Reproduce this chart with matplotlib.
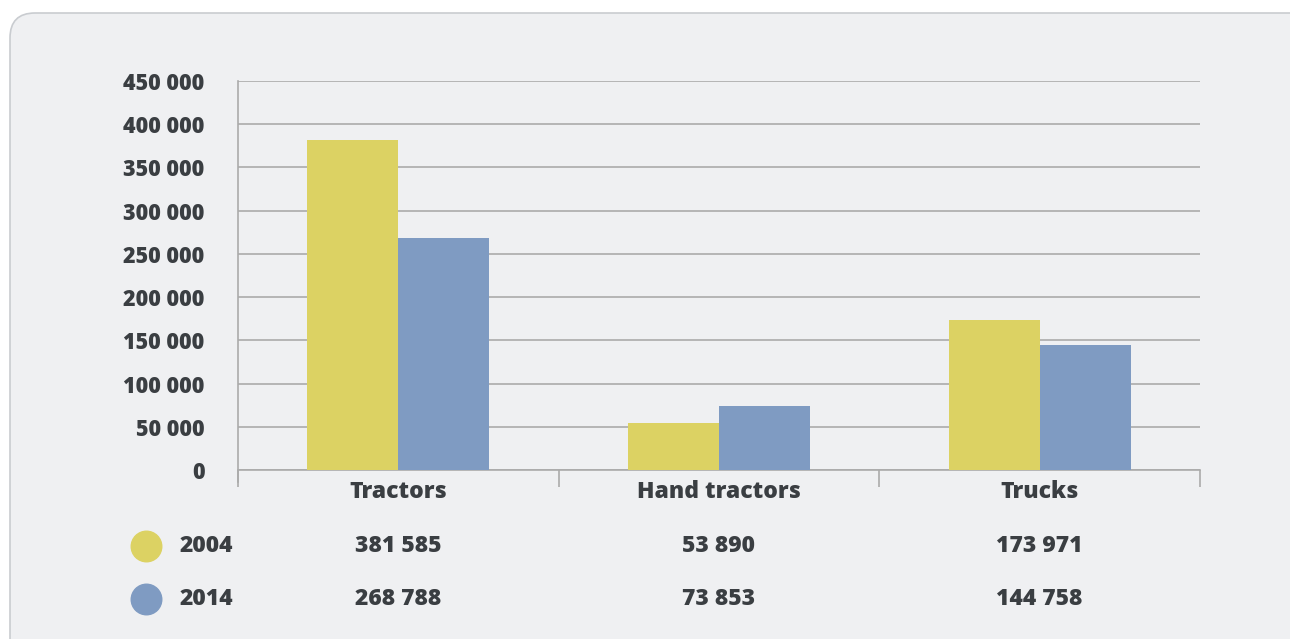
import matplotlib
matplotlib.use("Agg")
import matplotlib.pyplot as plt
import numpy as np
from matplotlib.patches import FancyBboxPatch
from matplotlib.transforms import IdentityTransform, blended_transform_factory

categories = ["Tractors", "Hand tractors", "Trucks"]
years = ["2004", "2014"]
values_2004 = [381585, 53890, 173971]
values_2014 = [268788, 73853, 144758]
yticks = [0, 50000, 100000, 150000, 200000, 250000, 300000, 350000, 400000, 450000]

col_2004 = "#dcd263"
col_2014 = "#7f9bc2"
txt = "#3a3e42"
grid = "#ababab"

plt.rcParams['font.family'] = ['Open Sans', 'DejaVu Sans']
plt.rcParams['font.weight'] = 'bold'

def fmt(v):
    return "{:,}".format(v).replace(",", " ")

fig = plt.figure(figsize=(12.9, 6.39), dpi=100)
fig.patch.set_facecolor("white")

# rounded grey panel behind everything (pixel coords)
panel = FancyBboxPatch((10 + 25, -40), 1400, 639 - 13 + 40 - 25,
                       boxstyle="round,pad=25", transform=IdentityTransform(),
                       facecolor="#eff0f2", edgecolor="#c9ccd0", linewidth=1.2,
                       zorder=-10)
fig.add_artist(panel)

ax = fig.add_axes([238 / 1290, 1 - 470 / 639, 962 / 1290, 389 / 639])
ax.set_facecolor("none")

x = np.arange(len(categories))
w = 0.284
ax.bar(x - w / 2, values_2004, w, color=col_2004, zorder=3)
ax.bar(x + w / 2, values_2014, w, color=col_2014, zorder=3)

ax.set_xlim(-0.5, 2.5)
ax.set_ylim(0, 450000)
ax.set_yticks(yticks)
ax.set_yticklabels([fmt(v) for v in yticks], fontsize=15.5, fontweight="heavy", color=txt)
ax.tick_params(axis="y", length=0, pad=24)
ax.yaxis.grid(True, color=grid, linewidth=1.2, zorder=0)

# x ticks at the group boundaries, labels in the middle
ax.set_xticks([-0.5, 0.5, 1.5, 2.5])
ax.set_xticklabels([])
ax.tick_params(axis="x", length=12, color=grid, width=1.2, direction="out")
ax.set_xticks(x, minor=True)
ax.set_xticklabels(categories, minor=True, fontsize=16.5, fontweight="heavy", color=txt)
ax.tick_params(axis="x", which="minor", length=0, pad=7)

for s in ["top", "right"]:
    ax.spines[s].set_visible(False)
ax.spines["left"].set_color(grid)
ax.spines["bottom"].set_color(grid)
ax.spines["left"].set_linewidth(1.2)
ax.spines["bottom"].set_linewidth(1.2)
ax.spines["left"].set_bounds(-450000 * 12 / 389, 450000)

# data table underneath
tr = blended_transform_factory(ax.transData, fig.transFigure)
rows_y = [1 - 546 / 639, 1 - 599 / 639]
for vals, yr, col, ry in zip([values_2004, values_2014], years, [col_2004, col_2014], rows_y):
    fig.lines.append(plt.Line2D([146 / 1290], [ry], marker="o", markersize=22,
                                color=col, linestyle="none", transform=fig.transFigure))
    fig.text(206 / 1290, ry, yr, ha="center", va="center", fontsize=16.5,
             fontweight="heavy", color=txt)
    for xi, v in zip(x, vals):
        ax.text(xi, ry, fmt(v), transform=tr, ha="center", va="center",
                fontsize=16.5, fontweight="heavy", color=txt, clip_on=False)

fig.savefig("out.png", dpi=100)
